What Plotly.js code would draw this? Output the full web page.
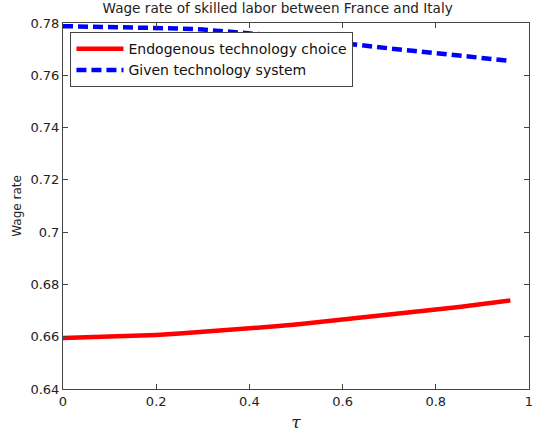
<!DOCTYPE html>
<html>
<head>
<meta charset="utf-8">
<script src="https://cdn.plot.ly/plotly-3.0.1.min.js"></script>
<style>body{margin:0;padding:0;background:#fff}#chart{width:534px;height:439px}</style>
</head>
<body>
<div id="chart"></div>
<script>
const tau = [0, 0.05, 0.1, 0.15, 0.2, 0.25, 0.3, 0.35, 0.4, 0.45, 0.5, 0.55, 0.6, 0.65, 0.7, 0.75, 0.8, 0.85, 0.9, 0.96];
const endogenous = [0.6595, 0.6597, 0.6600, 0.6603, 0.6607, 0.6612, 0.6618, 0.6625, 0.6632, 0.6639, 0.6647, 0.6656, 0.6665, 0.6674, 0.6683, 0.6693, 0.6703, 0.6714, 0.6725, 0.6739];
const given = [0.7788, 0.7787, 0.7786, 0.7784, 0.7782, 0.7779, 0.7775, 0.7769, 0.7762, 0.7753, 0.7743, 0.7732, 0.7722, 0.7712, 0.7703, 0.7694, 0.7685, 0.7676, 0.7667, 0.7655];
const seriesNames = ["Endogenous technology choice", "Given technology system"];
const xTicks = [0, 0.2, 0.4, 0.6, 0.8, 1];
const xTickText = ["0", "0.2", "0.4", "0.6", "0.8", "1"];
const yTicks = [0.64, 0.66, 0.68, 0.7, 0.72, 0.74, 0.76, 0.78];
const yTickText = ["0.64", "0.66", "0.68", "0.7", "0.72", "0.74", "0.76", "0.78"];

const font = "'DejaVu Sans', sans-serif";
const traces = [
  {x: tau, y: endogenous, name: seriesNames[0], mode: "lines", line: {color: "#ff0000", width: 4.5}},
  {x: tau, y: given, name: seriesNames[1], mode: "lines", line: {color: "#0000ff", width: 4.5, dash: "10px,5px"}}
];
const axisCommon = {
  showline: true, mirror: "ticks", linecolor: "#444", linewidth: 1,
  ticks: "inside", ticklen: 5, tickcolor: "#444", showgrid: false, zeroline: false,
  tickfont: {family: font, size: 13, color: "#222"}
};
const layout = {
  width: 534, height: 439,
  margin: {l: 63, r: 5, t: 23, b: 50},
  paper_bgcolor: "#fff", plot_bgcolor: "#fff",
  title: {text: "Wage rate of skilled labor between France and Italy", font: {family: font, size: 13.6, color: "#222"}, x: 0.52, xanchor: "center", y: 0.992, yanchor: "top"},
  xaxis: Object.assign({}, axisCommon, {range: [0, 1], tickvals: xTicks, ticktext: xTickText,
    title: {text: "<i>τ</i>", font: {family: "'DejaVu Serif', serif", size: 17, color: "#222"}, standoff: 8}}),
  yaxis: Object.assign({}, axisCommon, {range: [0.64, 0.78], tickvals: yTicks, ticktext: yTickText,
    title: {text: "Wage rate", font: {family: font, size: 12, color: "#222"}, standoff: 6}}),
  showlegend: true,
  legend: {x: 0.016, y: 0.975, xanchor: "left", yanchor: "top", bgcolor: "#fff", bordercolor: "#444", borderwidth: 1,
    font: {family: font, size: 14, color: "#111"}, tracegroupgap: 0, itemwidth: 47}
};
Plotly.newPlot("chart", traces, layout, {displayModeBar: false, staticPlot: true});
</script>
</body>
</html>
